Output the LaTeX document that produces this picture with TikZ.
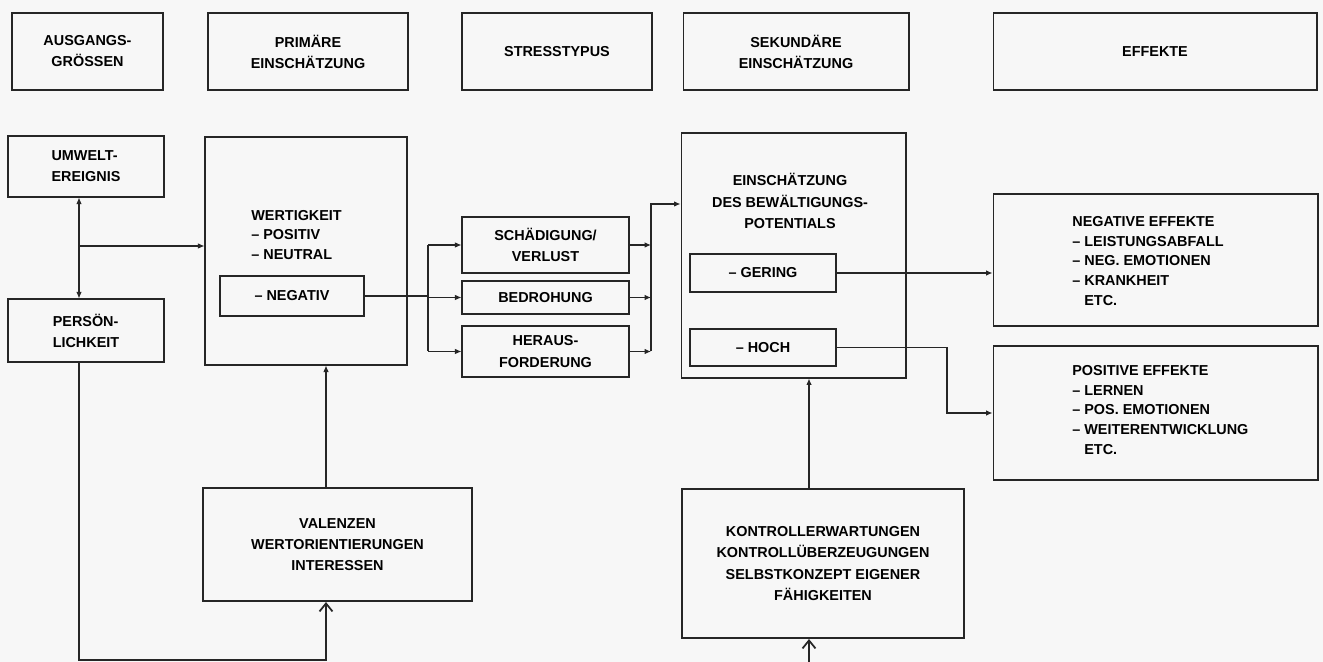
\documentclass[tikz,border=0pt]{standalone}
\usepackage{fontspec}
\setmainfont{Liberation Sans}
\usetikzlibrary{arrows.meta}

\begin{document}
\begin{tikzpicture}[x=0.02cm, y=-0.02cm, font=\fontsize{8.2}{12}\selectfont\bfseries,
    sz/.style 2 args={minimum width=#1*0.2mm, minimum height=#2*0.2mm},
    box/.style={draw=black!85, line width=0.6pt, inner sep=0pt, align=center},
    bigbox/.style={box, line width=1.2pt},
    txt/.style={inner sep=0pt, align=left, font=\fontsize{8.2}{11.3}\selectfont\bfseries},
    arr/.style={draw=black!85, line width=0.6pt, -{Latex[length=1.3mm, width=1.1mm]}},
    bigarr/.style={draw=black!85, line width=1pt, -{Straight Barb[length=1.6mm, width=2.6mm, line width=1pt]}}]
  % Hintergrund und Rand
  \fill[black!3] (0,0) rectangle (1323,662);
  \useasboundingbox (0,0) rectangle (1323,662);

  % Kopfzeile
  \node[box, sz={151}{77}] (hAus)    at (87.5,51.5) {AUSGANGS-\\GRÖSSEN};
  \node[box, sz={200}{77}] (hPrim)   at (308,51.5)  {PRIMÄRE\\EINSCHÄTZUNG};
  \node[box, sz={190}{77}] (hStress) at (557,51.5)  {STRESSTYPUS};
  \node[box, sz={226}{77}] (hSek)    at (796,51.5)  {SEKUNDÄRE\\EINSCHÄTZUNG};
  \node[box, sz={324}{77}] (hEff)    at (1155,51.5) {EFFEKTE};

  % Ausgangsgroessen
  \node[box, sz={156}{61}, align=left] (umwelt) at (86,166.5) {UMWELT-\\EREIGNIS};
  \node[box, sz={156}{63}, align=left] (person) at (86,330.5) {PERSÖN-\\LICHKEIT};

  % primaere Einschaetzung
  \node[box, sz={202}{228}] (wert) at (306,251) {};
  \node[txt, anchor=west] (wertTxt) at (251,235) {WERTIGKEIT\\– POSITIV\\– NEUTRAL};
  \node[box, sz={144}{40}] (negativ) at (292,296) {– NEGATIV};

  % Stresstypus
  \node[box, sz={167}{56}] (schad)  at (545.5,245)   {SCHÄDIGUNG/\\VERLUST};
  \node[box, sz={167}{33}] (bedr)   at (545.5,297.5) {BEDROHUNG};
  \node[box, sz={167}{51}] (heraus) at (545.5,351.5) {HERAUS-\\FORDERUNG};

  % sekundaere Einschaetzung
  \node[box, sz={225}{245}] (einsch) at (793.5,255.5) {};
  \node[inner sep=0pt, align=center] (einschTxt) at (790,201) {EINSCHÄTZUNG\\DES BEWÄLTIGUNGS-\\POTENTIALS};
  \node[box, sz={146}{38}] (gering) at (763,273)   {– GERING};
  \node[box, sz={146}{37}] (hoch)   at (763,347.5) {– HOCH};

  % Effekte
  \node[box, sz={325}{132}] (negeff) at (1155.5,260) {};
  \node[txt, anchor=west] (negTxt) at (1072,261)
       {NEGATIVE EFFEKTE\\– LEISTUNGSABFALL\\– NEG. EMOTIONEN\\– KRANKHEIT\\\phantom{– }ETC.};
  \node[box, sz={325}{134}] (poseff) at (1155.5,413) {};
  \node[txt, anchor=west] (posTxt) at (1072,410)
       {POSITIVE EFFEKTE\\– LERNEN\\– POS. EMOTIONEN\\– WEITERENTWICKLUNG\\\phantom{– }ETC.};

  % Personmerkmale unten
  \node[bigbox, sz={269}{113}] (valenz) at (337.5,544.5) {VALENZEN\\WERTORIENTIERUNGEN\\INTERESSEN};
  \node[bigbox, sz={282}{149}] (kontr)  at (823,563.5)
       {KONTROLLERWARTUNGEN\\KONTROLLÜBERZEUGUNGEN\\SELBSTKONZEPT EIGENER\\FÄHIGKEITEN};

  % Hilfspunkte
  \coordinate (jA) at (79,246);
  \coordinate (jB) at (79,660);
  \coordinate (colV) at (326,0);
  \coordinate (jC) at (428,0);
  \coordinate (jD) at (651,204);
  \coordinate (jE) at (947,0);
  \coordinate (colK) at (809,0);
  \coordinate (jF) at (809,662);

  % Verbindungen
  \draw[arr] (jA) -- (jA |- umwelt.south);
  \draw[arr] (jA) -- (jA |- person.north);
  \draw[arr] (jA) -- (jA -| wert.west);
  \draw[draw=black!85, line width=0.6pt] (negativ.east) -- (negativ.east -| jC);
  \draw[draw=black!85, line width=0.6pt] (jC |- schad.west) -- (jC |- heraus.west);
  \foreach \n in {schad, bedr, heraus}{
    \draw[arr] (jC |- \n.west) -- (\n.west);
    \draw[arr] (\n.east) -- (\n.east -| jD);
  }
  \draw[arr] (jD |- heraus.east) -- (jD) -- (jD -| einsch.west);
  \draw[arr] (gering.east) -- (gering.east -| negeff.west);
  \draw[arr] (hoch.east) -- (hoch.east -| jE) -- (jE |- poseff.west) -- (poseff.west);
  \draw[arr] (valenz.north -| colV) -- (wert.south -| colV);
  \draw[arr] (kontr.north -| colK) -- (einsch.south -| colK);
  \draw[bigarr] (person.south -| jA) -- (jB) -- (jB -| colV) -- (valenz.south -| colV);
  \draw[bigarr] (jF) -- (kontr.south -| colK);
\end{tikzpicture}
\end{document}
